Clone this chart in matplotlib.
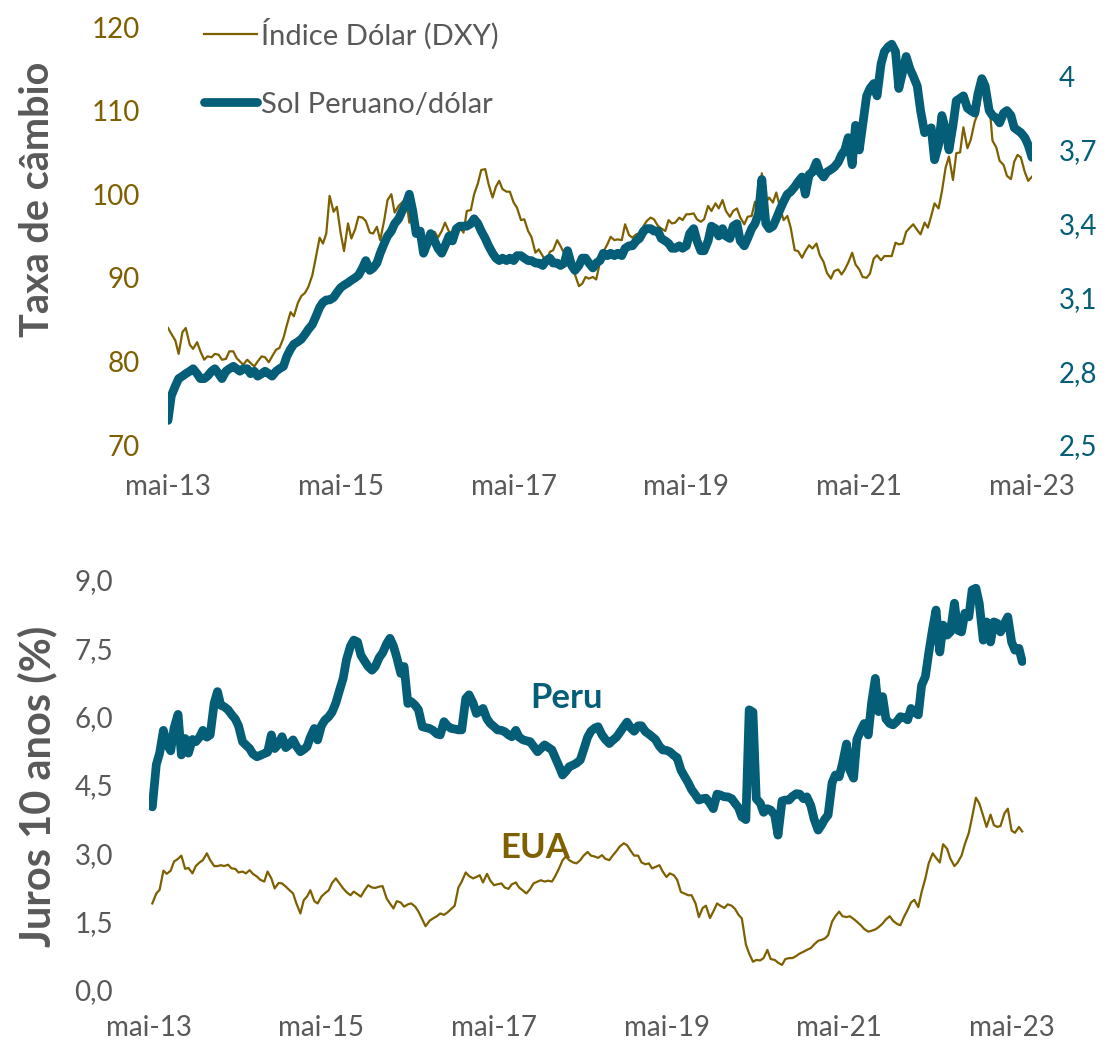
import matplotlib
matplotlib.use('Agg')
import matplotlib.pyplot as plt
import pandas as pd
from matplotlib.lines import Line2D

plt.rcParams['font.family'] = ['Lato', 'DejaVu Sans']

TEAL = '#045E77'
BROWN = '#7F6000'
GREY = '#595959'

# semi-monthly observations
fx_dates = pd.date_range('2013-05-01', '2023-05-01', freq='SMS')
yld_dates = pd.date_range('2013-05-15', '2023-06-15', freq='SMS')

dxy = [84.0, 83.3, 82.5, 80.9, 83.5, 84.0, 82.0, 81.5, 82.3, 81.2, 80.2, 80.6, 80.5, 80.9, 80.8, 80.2,
       80.3, 81.2, 81.2, 80.4, 80.0, 79.6, 80.2, 79.8, 79.4, 80.0, 80.6, 80.5, 79.9, 80.6, 81.4, 81.6, 82.8, 84.3, 85.9, 85.4, 87.0, 87.8, 88.2, 88.9,
       90.3, 92.3, 94.8, 94.1, 95.3, 99.8, 97.9, 98.5, 95.3, 93.2, 96.5, 94.7, 95.8, 97.3, 97.2, 96.8, 95.4, 95.3, 96.1, 94.5, 96.9, 99.3, 100.0, 97.8,
       98.6, 99.0, 99.5, 96.6, 98.2, 96.2, 94.6, 94.6, 93.1, 94.6, 95.5, 94.8, 95.6, 96.6, 95.5, 95.4, 95.9, 96.1, 95.4, 98.0, 98.1, 100.0, 101.3, 102.9,
       103.0, 101.2, 99.6, 100.9, 101.6, 100.6, 100.3, 100.3, 99.0, 98.4, 96.9, 97.0, 95.6, 94.9, 93.0, 93.4, 92.6, 91.8, 93.1, 93.3, 94.5, 93.8, 92.9, 93.6,
       92.1, 90.4, 89.0, 89.3, 90.1, 89.9, 90.1, 89.8, 91.9, 93.1, 94.0, 94.9, 94.5, 94.6, 94.5, 96.4, 95.1, 94.8, 95.2, 95.3, 96.2, 96.8, 97.2, 97.0,
       96.2, 95.9, 95.6, 96.9, 96.5, 96.6, 97.2, 96.9, 97.6, 97.6, 97.7, 97.0, 96.7, 97.0, 98.6, 98.0, 98.9, 98.3, 99.3, 98.0, 97.3, 98.0, 98.3, 97.2,
       96.4, 97.3, 97.4, 99.1, 98.1, 102.5, 99.0, 99.6, 99.0, 100.2, 98.3, 96.9, 97.4, 96.0, 93.3, 93.2, 92.4, 93.2, 93.9, 93.5, 94.1, 92.7, 91.9, 90.6,
       89.9, 90.8, 91.0, 90.4, 91.0, 91.8, 93.0, 91.6, 91.0, 90.1, 90.0, 90.5, 92.3, 92.7, 92.1, 92.6, 92.6, 92.6, 94.2, 94.0, 94.1, 95.5, 96.0, 96.4,
       95.7, 95.2, 96.6, 96.0, 97.4, 98.9, 98.3, 100.3, 103.2, 104.5, 101.7, 104.9, 105.0, 108.0, 105.5, 106.5, 108.7, 109.7, 112.5, 112.9, 111.0, 106.4, 105.6, 104.0,
       103.5, 102.2, 101.8, 103.9, 104.7, 104.4, 102.6, 101.6, 102.1]

pen = [2.60, 2.70, 2.74, 2.77, 2.78, 2.79, 2.80, 2.81, 2.79, 2.77, 2.77, 2.78, 2.80, 2.81, 2.79, 2.77,
       2.80, 2.81, 2.82, 2.81, 2.80, 2.81, 2.81, 2.79, 2.80, 2.78, 2.79, 2.80, 2.79, 2.78, 2.80, 2.81, 2.82, 2.86, 2.89, 2.91, 2.92, 2.93, 2.95, 2.97,
       2.99, 3.02, 3.06, 3.08, 3.09, 3.09, 3.10, 3.12, 3.14, 3.15, 3.16, 3.17, 3.18, 3.19, 3.22, 3.25, 3.21, 3.22, 3.24, 3.28, 3.32, 3.35, 3.37, 3.40,
       3.42, 3.45, 3.48, 3.52, 3.45, 3.36, 3.37, 3.28, 3.32, 3.36, 3.33, 3.30, 3.28, 3.31, 3.35, 3.33, 3.38, 3.39, 3.39, 3.39, 3.40, 3.42, 3.40, 3.37,
       3.34, 3.31, 3.28, 3.26, 3.25, 3.26, 3.25, 3.26, 3.25, 3.27, 3.27, 3.26, 3.25, 3.25, 3.24, 3.24, 3.23, 3.25, 3.26, 3.24, 3.24, 3.23, 3.24, 3.29,
       3.23, 3.21, 3.23, 3.26, 3.26, 3.24, 3.22, 3.24, 3.25, 3.28, 3.27, 3.28, 3.27, 3.28, 3.27, 3.30, 3.31, 3.31, 3.33, 3.34, 3.37, 3.38, 3.38, 3.37,
       3.37, 3.34, 3.33, 3.32, 3.30, 3.30, 3.31, 3.30, 3.31, 3.36, 3.38, 3.33, 3.29, 3.29, 3.33, 3.39, 3.38, 3.35, 3.38, 3.35, 3.34, 3.39, 3.40, 3.33,
       3.31, 3.34, 3.38, 3.40, 3.44, 3.58, 3.40, 3.38, 3.39, 3.42, 3.46, 3.49, 3.52, 3.53, 3.55, 3.57, 3.59, 3.52, 3.60, 3.61, 3.65, 3.61, 3.59, 3.61,
       3.62, 3.63, 3.65, 3.68, 3.70, 3.75, 3.64, 3.80, 3.70, 3.80, 3.92, 3.95, 3.97, 3.92, 4.05, 4.10, 4.12, 4.13, 4.10, 3.95, 4.02, 4.08, 4.03, 4.00,
       3.96, 3.86, 3.77, 3.78, 3.79, 3.66, 3.72, 3.84, 3.78, 3.70, 3.80, 3.90, 3.91, 3.92, 3.87, 3.86, 3.85, 3.93, 3.99, 3.96, 3.86, 3.84, 3.83, 3.81,
       3.85, 3.86, 3.84, 3.79, 3.78, 3.77, 3.75, 3.72, 3.67]

us10 = [1.90, 2.12, 2.20, 2.62, 2.55, 2.62, 2.82, 2.88, 2.95, 2.66, 2.68, 2.56, 2.72, 2.80, 2.85,
        3.00, 2.85, 2.72, 2.72, 2.74, 2.72, 2.75, 2.67, 2.66, 2.58, 2.60, 2.56, 2.63, 2.55, 2.49, 2.42, 2.38, 2.60, 2.45, 2.23, 2.35, 2.34, 2.27, 2.20,
        2.12, 1.90, 1.68, 1.97, 2.05, 2.19, 1.95, 1.90, 2.05, 2.12, 2.19, 2.35, 2.45, 2.35, 2.23, 2.15, 2.08, 2.16, 2.10, 2.05, 2.20, 2.30, 2.25, 2.24,
        2.27, 2.28, 2.01, 1.90, 1.79, 1.95, 1.92, 1.83, 1.88, 1.90, 1.83, 1.72, 1.55, 1.40, 1.52, 1.57, 1.62, 1.68, 1.65, 1.70, 1.78, 1.85, 2.25, 2.38,
        2.58, 2.50, 2.45, 2.48, 2.52, 2.36, 2.55, 2.40, 2.30, 2.32, 2.34, 2.25, 2.22, 2.32, 2.36, 2.25, 2.18, 2.12, 2.22, 2.34, 2.38, 2.41, 2.38, 2.40,
        2.38, 2.50, 2.68, 2.85, 2.93, 2.85, 2.80, 2.78, 2.85, 2.95, 3.03, 2.95, 2.93, 2.90, 2.96, 2.88, 2.85, 2.95, 3.05, 3.15, 3.22, 3.18, 3.05, 2.95,
        2.95, 2.80, 2.76, 2.78, 2.67, 2.70, 2.74, 2.60, 2.48, 2.56, 2.52, 2.42, 2.15, 2.12, 2.08, 2.08, 1.90, 1.60, 1.80, 1.85, 1.58, 1.72, 1.90, 1.85,
        1.80, 1.88, 1.85, 1.78, 1.65, 1.57, 1.00, 0.80, 0.62, 0.66, 0.65, 0.70, 0.88, 0.68, 0.66, 0.60, 0.55, 0.68, 0.70, 0.70, 0.75, 0.80, 0.84, 0.88,
        0.92, 1.00, 1.08, 1.10, 1.13, 1.20, 1.50, 1.62, 1.72, 1.62, 1.60, 1.62, 1.56, 1.50, 1.42, 1.34, 1.28, 1.30, 1.33, 1.38, 1.46, 1.55, 1.62, 1.52,
        1.45, 1.42, 1.62, 1.76, 1.92, 1.98, 1.82, 2.15, 2.45, 2.78, 3.00, 2.90, 2.80, 3.20, 3.10, 2.88, 2.72, 2.80, 2.95, 3.20, 3.45, 3.80, 4.22, 4.10,
        3.82, 3.58, 3.85, 3.62, 3.58, 3.60, 3.88, 3.98, 3.50, 3.45, 3.58, 3.48]

peru10 = [4.02, 4.95, 5.20, 5.70, 5.40, 5.25, 5.75, 6.05, 5.16, 5.52, 5.20, 5.50, 5.45, 5.55, 5.70,
          5.55, 5.60, 6.30, 6.55, 6.25, 6.22, 6.15, 6.05, 5.95, 5.80, 5.45, 5.38, 5.30, 5.18, 5.12, 5.15, 5.19, 5.22, 5.60, 5.30, 5.40, 5.56, 5.32, 5.38,
          5.49, 5.35, 5.23, 5.28, 5.34, 5.55, 5.74, 5.49, 5.80, 5.92, 6.00, 6.10, 6.30, 6.55, 6.84, 7.25, 7.55, 7.68, 7.64, 7.35, 7.21, 7.10, 7.02, 7.10,
          7.30, 7.40, 7.60, 7.72, 7.55, 7.30, 6.95, 7.10, 6.29, 6.33, 6.25, 6.15, 5.78, 5.76, 5.74, 5.70, 5.62, 5.60, 5.89, 5.80, 5.74, 5.73, 5.71, 5.71,
          6.40, 6.48, 6.30, 6.07, 6.12, 6.18, 5.95, 5.85, 5.78, 5.71, 5.70, 5.67, 5.60, 5.56, 5.70, 5.55, 5.49, 5.47, 5.45, 5.35, 5.23, 5.30, 5.38, 5.33,
          5.27, 5.10, 4.90, 4.72, 4.80, 4.90, 4.94, 4.98, 5.05, 5.27, 5.55, 5.68, 5.75, 5.78, 5.60, 5.50, 5.41, 5.48, 5.55, 5.65, 5.78, 5.88, 5.75, 5.68,
          5.80, 5.80, 5.67, 5.62, 5.56, 5.50, 5.35, 5.27, 5.26, 5.23, 5.15, 5.10, 4.83, 4.70, 4.55, 4.40, 4.28, 4.17, 4.20, 4.21, 4.10, 3.98, 4.30, 4.28,
          4.24, 4.24, 4.20, 4.10, 4.00, 3.80, 3.74, 6.15, 6.10, 4.20, 4.10, 3.90, 3.98, 3.95, 3.84, 3.40, 4.15, 4.17, 4.17, 4.25, 4.31, 4.30, 4.20, 4.24,
          4.05, 3.75, 3.51, 3.62, 3.75, 3.84, 4.55, 4.72, 4.68, 4.97, 5.40, 4.83, 4.65, 5.50, 5.70, 5.85, 5.60, 6.29, 6.84, 6.11, 6.44, 5.95, 5.85, 5.82,
          5.90, 6.00, 5.98, 5.93, 6.18, 6.10, 6.04, 6.69, 6.88, 7.39, 7.94, 8.34, 7.42, 8.01, 7.79, 7.86, 8.49, 7.90, 7.86, 8.27, 8.19, 8.78, 8.82, 8.49,
          7.68, 8.08, 7.64, 8.08, 8.05, 7.86, 8.05, 8.19, 7.64, 7.46, 7.50, 7.21]

tick_dates = pd.to_datetime(['2013-05-01', '2015-05-01', '2017-05-01', '2019-05-01', '2021-05-01', '2023-05-01'])
tick_labels = ['mai-13', 'mai-15', 'mai-17', 'mai-19', 'mai-21', 'mai-23']

dxy_ticks = [70, 80, 90, 100, 110, 120]
pen_ticks = [2.5, 2.8, 3.1, 3.4, 3.7, 4.0]
pen_labels = ['2,5', '2,8', '3,1', '3,4', '3,7', '4']
yld_ticks = [0, 1.5, 3.0, 4.5, 6.0, 7.5, 9.0]
yld_labels = ['0,0', '1,5', '3,0', '4,5', '6,0', '7,5', '9,0']

W, H = 1107, 1045
fig = plt.figure(figsize=(W / 100, H / 100), dpi=100)

# top panel: exchange rates
ax1 = fig.add_axes([168 / W, 1 - 445 / H, 864 / W, 418 / H])
ax2 = ax1.twinx()
ax1.plot(fx_dates, dxy, color=BROWN, lw=1.6)
ax2.plot(fx_dates, pen, color=TEAL, lw=6.3, solid_joinstyle='round', solid_capstyle='round')

ax1.set_xlim(pd.Timestamp('2013-05-01'), pd.Timestamp('2023-05-01'))
ax1.set_ylim(70, 120)
ax1.set_yticks(dxy_ticks)
ax1.set_yticklabels([str(v) for v in dxy_ticks], color=BROWN)
ax2.set_ylim(2.5, 4.2)
ax2.set_yticks(pen_ticks)
ax2.set_yticklabels(pen_labels, color=TEAL)
ax1.set_xticks(tick_dates)
ax1.set_xticklabels(tick_labels, color=GREY)
ax1.tick_params(axis='y', length=0, pad=20, labelsize=20)
ax1.tick_params(axis='x', length=0, pad=21, labelsize=20)
ax2.tick_params(axis='y', length=0, pad=19, labelsize=20)
for a in (ax1, ax2):
    for s in a.spines.values():
        s.set_visible(False)

handles = [Line2D([], [], color=BROWN, lw=1.6),
           Line2D([], [], color=TEAL, lw=6.3, solid_capstyle='round')]
fig.legend(handles, ['Índice Dólar (DXY)', 'Sol Peruano/dólar'], loc='upper left',
           bbox_to_anchor=(204 / W, 1 - 18 / H), frameon=False, fontsize=21,
           borderpad=0, borderaxespad=0, handlelength=1.8, handletextpad=0.15,
           labelspacing=1.45, labelcolor=GREY)

# bottom panel: 10-year yields
ax3 = fig.add_axes([149 / W, 1 - 990 / H, 877 / W, 410 / H])
ax3.plot(yld_dates, us10, color=BROWN, lw=1.6)
ax3.plot(yld_dates, peru10, color=TEAL, lw=6.3, solid_joinstyle='round', solid_capstyle='round')
ax3.set_xlim(pd.Timestamp('2013-05-01'), pd.Timestamp('2023-07-01'))
ax3.set_ylim(0, 9)
ax3.set_yticks(yld_ticks)
ax3.set_yticklabels(yld_labels, color=GREY)
ax3.set_xticks(tick_dates)
ax3.set_xticklabels(tick_labels, color=GREY)
ax3.tick_params(axis='y', length=0, pad=26, labelsize=20)
ax3.tick_params(axis='x', length=0, pad=18, labelsize=20)
for s in ax3.spines.values():
    s.set_visible(False)

ax3.text(pd.Timestamp('2018-03-05'), 6.41, 'Peru', color=TEAL, fontsize=25,
         fontweight='bold', ha='center', va='center')
ax3.text(pd.Timestamp('2017-10-20'), 3.12, 'EUA', color=BROWN, fontsize=25,
         fontweight='bold', ha='center', va='center')

fig.text(38 / W, 1 - 199 / H, 'Taxa de câmbio', rotation=90, fontsize=28.5,
         fontweight='bold', color=GREY, ha='center', va='center')
fig.text(37 / W, 1 - 786 / H, 'Juros 10 anos (%)', rotation=90, fontsize=30,
         fontweight='bold', color=GREY, ha='center', va='center')

fig.savefig('out.png', dpi=100)
